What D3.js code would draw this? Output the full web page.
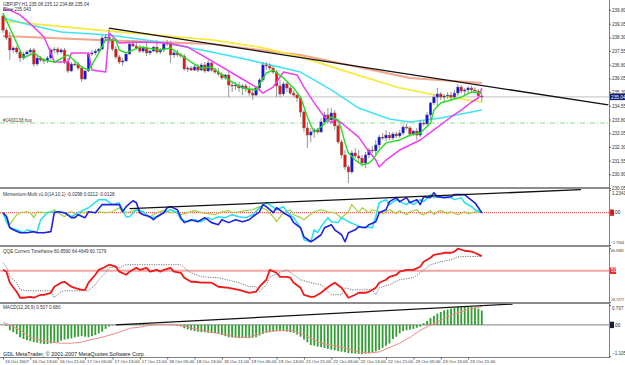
<!DOCTYPE html>
<html>
<head>
<meta charset="utf-8">
<script src="https://cdn.jsdelivr.net/npm/d3@7"></script>
<style>
body { margin: 0; background: #fff; }
svg { display: block; font-family: "Liberation Sans", Arial, sans-serif; }
</style>
</head>
<body>
<svg id="chart" width="625" height="365"></svg>
<script>
// GBPJPY H1 candles, [open, high, low, close]
var candles = [
  [239.47,239.64,238.54,238.70],[238.70,238.81,238.16,238.27],[238.27,238.60,237.06,237.61],[237.61,237.83,237.45,237.72],
  [237.72,237.83,237.39,237.50],[237.50,237.61,236.95,237.17],[237.17,237.50,237.06,237.39],[237.39,237.61,237.23,237.50],
  [237.50,237.72,237.34,237.61],[237.61,237.72,236.68,236.84],[236.84,237.28,236.73,237.17],[237.17,237.28,236.95,237.06],
  [237.06,237.17,236.84,237.01],[237.01,237.28,236.90,237.17],[237.17,237.72,237.06,237.61],[237.61,237.77,237.45,237.66],
  [237.66,237.77,237.34,237.50],[237.50,237.72,237.39,237.61],[237.61,237.72,236.84,236.95],[236.95,237.17,236.35,236.46],
  [236.46,236.95,236.40,236.84],[236.84,236.95,236.73,236.80],[236.80,236.95,236.51,236.62],[236.62,236.73,235.86,236.02],
  [236.02,236.51,235.97,236.46],[236.46,237.50,236.40,237.39],[237.39,237.61,237.28,237.45],[237.45,237.66,237.34,237.55],
  [237.55,237.72,237.45,237.66],[237.66,238.43,237.61,238.27],[238.27,238.49,238.10,238.32],[238.32,238.81,237.99,238.16],
  [238.16,238.27,237.55,237.66],[237.66,237.83,237.12,237.23],[237.23,237.34,236.84,236.95],[236.95,237.17,236.73,237.01],
  [237.01,237.50,236.95,237.39],[237.39,238.05,237.34,237.94],[237.94,238.16,237.77,237.83],[237.83,238.05,237.61,237.72],
  [237.72,237.88,237.45,237.55],[237.55,237.83,237.45,237.72],[237.72,237.99,237.28,237.45],[237.45,237.61,237.34,237.55],
  [237.55,237.83,237.50,237.77],[237.77,238.16,237.39,237.50],[237.50,237.72,237.39,237.61],[237.61,238.05,237.50,237.94],
  [237.94,238.16,237.83,237.99],[237.99,238.10,236.90,237.34],[237.34,237.61,237.17,237.45],[237.45,237.61,237.23,237.34],
  [237.34,237.45,237.17,237.28],[237.28,237.39,236.46,236.57],[236.57,236.73,236.40,236.62],[236.62,236.73,236.46,236.51],
  [236.51,236.79,236.46,236.68],[236.68,236.84,236.40,236.51],[236.51,236.90,236.46,236.79],[236.79,236.95,236.35,236.46],
  [236.46,237.06,236.40,236.90],[236.90,236.95,236.40,236.51],[236.51,236.62,236.29,236.40],[236.40,236.62,236.19,236.29],
  [236.29,236.40,235.97,236.08],[236.08,236.29,235.97,236.24],[236.24,236.40,235.03,235.69],[235.69,235.86,235.31,235.64],
  [235.64,235.86,235.42,235.69],[235.69,235.86,235.31,235.53],[235.53,235.75,235.14,235.64],[235.64,235.75,235.31,235.47],
  [235.47,235.64,235.09,235.25],[235.25,235.53,234.87,235.14],[235.14,235.64,235.09,235.53],[235.53,236.08,235.42,235.97],
  [235.97,236.95,235.86,236.79],[236.79,236.95,236.51,236.73],[236.73,236.90,236.51,236.62],[236.62,236.73,236.29,236.40],
  [236.40,236.51,235.03,235.64],[235.64,235.97,235.03,235.20],[235.20,235.86,235.09,235.75],[235.75,235.86,235.31,235.53],
  [235.53,235.64,235.14,235.25],[235.25,235.42,235.03,235.14],[235.14,235.25,234.76,234.98],[234.98,235.09,233.94,234.21],
  [234.21,234.32,233.12,233.34],[233.34,233.67,232.24,232.95],[232.95,233.34,232.57,233.12],[233.12,233.34,232.79,233.23],
  [233.23,233.34,233.01,233.12],[233.12,233.88,233.06,233.67],[233.67,234.21,233.56,234.05],[234.05,234.43,233.56,233.78],
  [233.78,234.43,233.67,234.16],[234.16,234.32,233.23,233.45],[233.45,233.56,232.46,232.57],[232.57,232.68,231.69,231.86],
  [231.86,232.13,231.04,231.20],[231.20,231.31,230.32,230.93],[230.93,232.13,230.82,231.97],[231.97,232.24,231.69,231.80],
  [231.80,232.13,231.47,231.69],[231.69,231.86,231.25,231.42],[231.42,232.02,231.15,231.86],[231.86,232.24,231.69,232.13],
  [232.13,232.35,231.97,232.08],[232.08,232.68,231.86,232.41],[232.41,232.95,232.24,232.84],[232.84,233.06,232.68,232.79],
  [232.79,233.23,232.62,232.95],[232.95,233.12,232.68,232.79],[232.79,233.12,232.68,233.01],[233.01,233.12,232.79,232.90],
  [232.90,233.23,232.79,233.06],[233.06,233.50,232.95,233.39],[233.39,233.56,233.23,233.34],[233.34,233.45,232.84,233.01],
  [233.01,233.23,232.90,233.17],[233.17,233.34,232.68,232.95],[232.95,233.78,232.84,233.61],[233.61,233.72,233.45,233.56],
  [233.56,234.21,233.50,234.05],[234.05,234.76,233.78,234.71],[234.71,235.14,234.60,235.03],[235.03,235.53,234.54,235.20],
  [235.20,235.31,234.87,235.03],[235.03,235.20,234.71,235.09],[235.09,235.31,234.93,235.14],[235.14,235.31,234.82,235.03],
  [235.03,235.42,234.93,235.25],[235.25,235.75,235.09,235.58],[235.58,235.69,235.25,235.36],[235.36,235.53,235.14,235.42],
  [235.42,235.64,235.25,235.53],[235.53,235.64,235.31,235.42],[235.42,235.58,235.25,235.36],[235.36,235.47,234.98,235.09],
  [235.09,235.25,234.76,235.04]
];

// moving averages, [bar, price]
var yellowMa = [[0,239.20],[28,238.70],[61,238.16],[75,237.77],[87,237.23],[101,236.40],[116,235.53],[128,235.09],[140,234.76]];
var salmonMa = [[0,238.38],[28,238.16],[61,237.94],[87,237.34],[101,236.79],[119,236.08],[140,235.80]];
var cyanMa = [[0,239.36],[8,238.98],[17,238.60],[31,238.43],[46,238.05],[61,237.50],[72,237.06],[87,236.40],[96,235.42],
  [104,234.43],[113,233.83],[119,233.67],[128,233.88],[140,234.32]];
var magentaMa = [[0,239.80],[2,239.80],[5,239.53],[9,238.87],[12,238.32],[14,237.45],[15,236.95],[19,236.95],[20,237.45],
  [25,237.45],[26,236.51],[30,236.40],[31,238.54],[34,237.99],[40,238.05],[48,237.99],[54,237.77],[58,237.34],[63,236.79],
  [69,236.13],[74,235.58],[76,235.25],[79,235.58],[82,236.40],[86,236.24],[88,235.58],[91,234.71],[94,233.94],[96,233.61],
  [97,233.83],[99,233.61],[104,232.84],[106,232.30],[109,231.58],[110,231.20],[112,231.58],[116,232.13],[122,232.68],
  [126,233.23],[131,233.94],[134,234.32],[137,234.76],[139,234.98],[140,235.53]];
var greenMa = [[0,239.64],[4,237.99],[6,237.17],[9,237.45],[12,237.06],[15,236.95],[19,237.34],[23,236.68],[25,236.51],
  [26,236.79],[28,237.45],[30,238.16],[33,238.16],[34,237.61],[36,237.45],[40,237.77],[46,237.61],[49,237.72],[52,237.34],
  [55,236.95],[58,236.62],[61,236.68],[63,236.40],[66,235.97],[70,235.53],[74,235.42],[77,236.35],[79,236.51],[82,236.08],
  [85,235.53],[87,235.03],[89,233.94],[90,233.50],[91,233.12],[93,233.39],[95,233.78],[96,233.94],[98,233.78],[99,233.23],
  [100,232.52],[101,231.97],[103,231.58],[105,231.31],[107,231.42],[108,231.58],[110,232.13],[112,232.52],[116,232.68],
  [119,232.95],[122,233.06],[125,233.61],[126,234.32],[128,234.71],[131,234.87],[134,235.03],[137,235.31],[140,235.25]];
var trendMain = [[31,238.81],[177,234.60]];
var bidPrice = 235.04;
var orderPrice = 233.61;
var priceTicks = [239.80,239.05,238.30,237.55,236.80,236.05,235.30,234.55,233.80,233.05,232.30,231.55,230.80,230.05];

// Momentum-Multi lines, [bar, value]
var momBlue = [[0,0],[1,-0.22],[2,-0.82],[3,-0.93],[5,-1.09],[7,-1.09],[9,-1.03],[10,-1.09],[12,-1.09],[14,-1.03],[15,0],
  [16,0.05],[18,0],[20,-0.27],[21,-0.27],[22,-0.11],[24,-0.27],[25,0.05],[27,0],[29,0.44],[32,0.44],[34,0.44],[35,0.05],
  [36,0.33],[38,0.65],[39,0.54],[40,0],[41,-0.11],[43,-0.22],[44,-0.38],[45,-0.22],[47,0],[48,0.27],[49,0.33],[51,0.16],
  [52,-0.27],[53,-0.54],[55,-0.38],[57,-0.49],[59,-0.27],[61,-0.54],[63,-0.65],[64,-0.38],[66,-0.54],[68,-0.38],[70,-0.49],
  [72,-0.38],[73,-0.22],[75,0.05],[76,0.44],[77,0.33],[79,0],[80,0.27],[82,0],[84,-0.22],[85,-0.54],[87,-0.82],[88,-1.31],
  [90,-1.58],[91,-1.47],[93,-1.20],[94,-0.82],[96,-0.65],[97,-0.93],[99,-1.20],[100,-1.58],[101,-1.09],[103,-0.93],
  [104,-0.76],[106,-0.82],[107,-0.65],[109,-0.49],[110,0],[112,0.16],[113,0.60],[115,0.82],[116,0.60],[118,0.82],[119,0.54],
  [121,0.71],[122,0.44],[123,0.87],[125,0.82],[126,1.09],[127,0.87],[129,0.82],[131,0.87],[132,0.98],[134,0.98],[135,0.98],
  [136,0.82],[138,0.54],[140,0]];
var momCyan = [[0,0],[1,-0.49],[2,-0.82],[4,-0.93],[6,-1.09],[7,-0.93],[9,-1.03],[10,-1.03],[11,-0.38],[13,0],[15,0.05],
  [18,0],[20,-0.22],[22,0],[25,0.27],[28,0.71],[30,0.71],[32,0.44],[34,0.54],[36,-0.22],[37,-0.22],[39,0.16],[41,0.05],
  [43,-0.27],[45,-0.22],[47,0],[49,0.16],[51,0],[52,-0.38],[54,-0.49],[56,-0.38],[58,-0.49],[60,-0.27],[61,-0.38],[63,-0.22],
  [65,-0.27],[67,-0.11],[69,-0.22],[71,-0.27],[73,-0.11],[75,0.27],[77,0.54],[78,0.44],[80,0.16],[82,0.33],[83,0.05],
  [85,-0.27],[87,-0.82],[88,-1.47],[90,-1.58],[91,-0.93],[92,-1.09],[93,-0.76],[95,-0.27],[96,-0.49],[98,-0.54],[99,-0.27],
  [101,-0.49],[103,-0.65],[105,-0.82],[106,-0.76],[108,-0.82],[109,-0.22],[110,0.54],[112,0.71],[113,0.44],[115,0.71],
  [116,0.60],[118,0.44],[119,0.60],[120,0.44],[122,0.71],[123,0.60],[125,0.98],[126,0.82],[128,0.87],[129,0.82],[131,0.82],
  [132,0.71],[134,0.82],[135,0.54],[137,0.33],[138,0.16],[140,0]];
var momLime = [[0,0],[1,-0.11],[2,-0.65],[3,-0.38],[4,-0.11],[5,0],[7,0.05],[8,0],[9,-0.27],[10,0.05],[12,0],[14,0.05],
  [15,0.16],[16,0],[18,-0.22],[19,0],[20,0.05],[22,-0.11],[23,0],[25,0.05],[27,0],[28,0.05],[30,0],[32,0.05],[34,0.27],
  [35,0],[37,0.05],[39,0.16],[41,0],[43,-0.22],[45,0],[47,0.11],[49,0],[51,0.05],[52,-0.11],[54,0],[56,0.11],[58,0],
  [60,-0.05],[62,-0.11],[64,0.05],[66,0.11],[67,0],[69,0.05],[71,0.11],[73,0.16],[75,0.33],[77,0.16],[79,-0.22],[80,-0.49],
  [82,0],[84,0.16],[85,-0.11],[87,-0.27],[88,-0.38],[89,-0.22],[91,0.05],[93,0.16],[95,0.05],[97,0],[99,-0.27],[101,0.05],
  [102,0.44],[104,0],[105,0.27],[107,0],[108,0.16],[110,0.05],[111,-0.05],[113,0.16],[115,-0.05],[116,0.11],[118,-0.11],
  [119,0.05],[121,0.16],[122,-0.05],[123,-0.11],[125,0.11],[126,-0.11],[127,0.05],[128,0.11],[130,-0.05],[131,0.05],
  [133,-0.11],[135,0.05],[136,-0.05],[138,0.05],[140,0]];
var trendMom = [[37,0.22],[169,1.25]];

// QQE, [bar, value]
var qqeRsi = [[0,50.7],[1,49.3],[2,41.1],[4,34.4],[5,29.9],[6,29.9],[8,30.6],[9,29.9],[11,32.1],[12,32.1],[14,33.6],
  [15,38.1],[17,41.1],[18,41.8],[20,38.1],[21,37.3],[23,35.8],[24,35.8],[25,41.1],[27,47.0],[28,50.7],[30,53.0],[31,54.5],
  [33,53.0],[34,49.3],[36,47.0],[37,49.3],[39,52.2],[40,50.7],[42,52.2],[43,49.3],[45,50.7],[46,49.3],[47,50.7],[49,52.2],
  [50,49.3],[52,48.5],[53,44.8],[55,41.8],[56,41.8],[58,41.1],[61,41.1],[63,38.1],[66,37.3],[69,35.8],[72,33.6],[74,34.4],
  [75,38.1],[77,43.3],[78,50.7],[80,48.5],[81,45.5],[83,45.5],[84,44.8],[85,41.1],[87,37.3],[88,32.1],[90,30.6],[91,30.6],
  [93,33.6],[94,35.8],[96,39.6],[97,41.1],[99,37.3],[100,33.6],[101,29.9],[103,32.1],[104,33.6],[106,33.6],[107,34.4],
  [109,37.3],[110,41.1],[112,43.3],[113,45.5],[115,47.0],[116,49.3],[118,50.7],[119,50.7],[120,50.7],[122,53.0],[123,56.7],
  [125,59.7],[126,61.9],[128,62.7],[129,63.4],[131,63.4],[132,64.2],[133,66.4],[135,64.9],[137,64.2],[138,63.4],[140,60.86]];
var qqeTrail = [[0,56.0],[1,53.0],[2,45.5],[4,41.1],[5,35.8],[7,35.1],[14,35.1],[15,29.9],[16,32.1],[17,34.4],[18,35.1],
  [25,35.1],[27,39.6],[28,43.3],[30,48.5],[31,52.2],[33,53.0],[34,52.2],[36,54.5],[52,54.5],[53,52.2],[55,48.5],[58,45.5],
  [63,44.8],[69,41.1],[72,38.1],[74,38.1],[75,34.4],[77,39.6],[78,45.5],[83,50.7],[87,43.3],[90,41.1],[93,39.6],[94,37.3],
  [96,32.1],[99,32.1],[100,37.3],[102,35.8],[108,35.8],[109,32.1],[110,37.3],[113,39.6],[116,43.3],[120,44.8],[122,48.5],
  [125,54.5],[128,56.7],[131,58.2],[133,60.4],[140,60.73]];

// MACD(12,26,9): histogram per bar, signal [bar, value]
var macdHist = [0.00,-0.03,-0.19,-0.26,-0.33,-0.44,-0.50,-0.54,-0.58,-0.61,-0.63,-0.66,-0.68,-0.68,-0.66,-0.63,-0.61,
  -0.56,-0.52,-0.50,-0.48,-0.44,-0.42,-0.40,-0.42,-0.44,-0.40,-0.36,-0.30,-0.24,-0.14,-0.06,-0.02,
  0.02,0.03,0.04,0.04,0.03,0.02,0.03,0.04,0.03,0.02,0.01,0.02,0.03,0.02,0.01,0.00,-0.01,-0.01,-0.03,
  -0.05,-0.12,-0.16,-0.19,-0.22,-0.24,-0.26,-0.26,-0.28,-0.29,-0.30,-0.31,-0.36,-0.40,-0.44,-0.45,-0.46,-0.47,-0.47,
  -0.47,-0.47,-0.46,-0.44,-0.38,-0.32,-0.28,-0.26,-0.24,-0.22,-0.22,-0.22,
  -0.24,-0.26,-0.28,-0.34,-0.42,-0.52,-0.62,-0.72,-0.74,-0.77,-0.79,-0.82,-0.85,-0.88,-0.90,-0.93,-0.95,-0.97,-1.00,
  -1.01,-1.02,-1.03,-1.04,-1.02,-1.00,-0.97,-0.94,-0.89,-0.82,-0.74,-0.66,
  -0.50,-0.42,-0.30,-0.22,-0.19,-0.17,-0.14,-0.10,-0.06,0.06,0.14,0.24,0.32,0.40,0.46,0.52,0.55,0.58,0.61,0.64,0.65,
  0.65,0.65,0.64,0.62,0.58,0.51];
var macdSignal = [[0,0.09],[2,-0.01],[5,-0.19],[8,-0.44],[11,-0.54],[14,-0.61],[17,-0.65],[20,-0.65],[23,-0.61],[25,-0.54],
  [28,-0.47],[31,-0.37],[34,-0.26],[37,-0.12],[40,-0.08],[43,-0.01],[46,0.02],[50,0.02],[54,-0.08],[58,-0.19],[61,-0.26],
  [63,-0.30],[69,-0.44],[72,-0.44],[77,-0.23],[84,-0.19],[87,-0.30],[93,-0.65],[99,-0.79],[104,-0.96],[107,-1.00],
  [110,-0.96],[116,-0.65],[119,-0.44],[122,-0.19],[125,-0.01],[131,0.34],[136,0.55],[140,0.65]];
var trendMacd = [[33,0.0],[149,0.74]];

var timeBars = [0,8,16,24,32,40,48,56,64,72,80,88,96,104,112,120,128,136];
var timeLabels = ["16 Oct 2007","16 Oct 13:00","16 Oct 21:00","17 Oct 05:00","17 Oct 13:00","17 Oct 21:00",
  "18 Oct 05:00","18 Oct 13:00","18 Oct 21:00","19 Oct 05:00","19 Oct 13:00","21 Oct 21:00","22 Oct 05:00",
  "22 Oct 13:00","22 Oct 21:00","23 Oct 05:00","23 Oct 13:00","23 Oct 21:00"];

var svg = d3.select('#chart');
var right = 609;
var x = d3.scaleLinear().domain([0, 140]).range([3, 481.8]);
var yMain = d3.scaleLinear().domain([230.05, 239.80]).range([188, 10]);
var yMom = d3.scaleLinear().domain([-1.7564, 1.2341]).range([245, 190]);
var yQqe = d3.scaleLinear().domain([26.7277, 66.9481]).range([302, 248]);
var yMacd = d3.scaleLinear().domain([-1.105, 0.707]).range([356, 305]);

svg.append('rect').attr('width', 625).attr('height', 365).attr('fill', '#fff');

var defs = svg.append('defs');
function panel(id, y0, h) {
  defs.append('clipPath').attr('id', id).append('rect')
    .attr('x', 0).attr('y', y0).attr('width', right).attr('height', h);
  return svg.append('g').attr('clip-path', 'url(#' + id + ')');
}
var gMain = panel('cMain', 0, 187);
var gMom = panel('cMom', 189, 56);
var gQqe = panel('cQqe', 247, 55);
var gMacd = panel('cMacd', 304, 53);

function drawLine(g, data, y, color, width, dash) {
  g.append('path').datum(data)
    .attr('fill', 'none')
    .attr('stroke', color)
    .attr('stroke-width', width)
    .attr('stroke-dasharray', dash || null)
    .attr('stroke-linejoin', 'round')
    .attr('d', d3.line()
      .x(function(d) { return x(d[0]); })
      .y(function(d) { return y(d[1]); }));
}
function hLine(g, y, color, width, dash) {
  g.append('line').attr('x1', 0).attr('x2', right).attr('y1', y).attr('y2', y)
    .attr('stroke', color).attr('stroke-width', width).attr('stroke-dasharray', dash || null);
}

// main panel
hLine(gMain, yMain(bidPrice), '#c0c0c0', 1);
hLine(gMain, yMain(orderPrice), '#8fd88f', 1, '5,2,1,2');
gMain.append('text').attr('x', 3).attr('y', yMain(orderPrice) - 1.5)
  .style('font-size', '4.6px').attr('fill', '#444').text('#1400138 buy');

drawLine(gMain, salmonMa, yMain, '#f3a58a', 2);
drawLine(gMain, yellowMa, yMain, '#f8ea3c', 1.7);
drawLine(gMain, cyanMa, yMain, '#3fe3f3', 1.5);

var gc = gMain.selectAll('g.candle').data(candles).enter().append('g');
gc.append('line')
  .attr('x1', function(d, i) { return x(i); })
  .attr('x2', function(d, i) { return x(i); })
  .attr('y1', function(d) { return yMain(d[1]); })
  .attr('y2', function(d) { return yMain(d[2]); })
  .attr('stroke', '#8a8a8a').attr('stroke-width', 0.9);
gc.append('rect')
  .attr('x', function(d, i) { return x(i) - 1.3; })
  .attr('width', 2.6)
  .attr('y', function(d) { return yMain(Math.max(d[0], d[3])); })
  .attr('height', function(d) { return Math.max(1, Math.abs(yMain(d[0]) - yMain(d[3]))); })
  .attr('fill', function(d) { return d[3] >= d[0] ? '#1010f0' : '#f01010'; })
  .attr('stroke', '#707070').attr('stroke-width', 0.4);

drawLine(gMain, magentaMa, yMain, '#f03cf0', 1.5);
drawLine(gMain, greenMa, yMain, '#22dd22', 1.4);
drawLine(gMain, trendMain, yMain, '#111', 1.3);

svg.append('text').attr('x', 3).attr('y', 5.5).style('font-size', '4.6px').attr('fill', '#333')
  .text('GBPJPY,H1 235.08 235.12 234.88 235.04');
svg.append('text').attr('x', 3).attr('y', 10.5).style('font-size', '4.6px').attr('fill', '#333')
  .text('Bline 235.043');

// momentum panel
hLine(gMom, yMom(0), '#ff3030', 1, '1,1');
drawLine(gMom, momLime, yMom, '#a3cf3c', 1.2);
drawLine(gMom, momCyan, yMom, '#22e0f0', 1.5);
drawLine(gMom, momBlue, yMom, '#2020e0', 1.6);
drawLine(gMom, trendMom, yMom, '#111', 1.3);
svg.append('text').attr('x', 3).attr('y', 196).style('font-size', '4.6px').attr('fill', '#333')
  .text('Momentum-Multi v1.0(14,10,1) -0.0298 0.0212 -0.0128');

// QQE panel
hLine(gQqe, yQqe(50), '#f4a4a4', 1.8);
drawLine(gQqe, qqeTrail, yQqe, '#777', 1, '1.2,1.2');
drawLine(gQqe, qqeRsi, yQqe, '#f01818', 1.8);
svg.append('text').attr('x', 3).attr('y', 252.5).style('font-size', '4.6px').attr('fill', '#333')
  .text('QQE Current Timeframe 60.8590 64.4649 60.7279');

// MACD panel
hLine(gMacd, yMacd(0), '#808080', 1);
gMacd.selectAll('rect.h').data(macdHist).enter().append('rect')
  .attr('x', function(d, i) { return x(i) - 0.9; })
  .attr('width', 1.8)
  .attr('y', function(d) { return yMacd(Math.max(0, d)); })
  .attr('height', function(d) { return Math.abs(yMacd(d) - yMacd(0)); })
  .attr('fill', '#2f9f2f');
drawLine(gMacd, macdSignal, yMacd, '#f08a8a', 1);
drawLine(gMacd, trendMacd, yMacd, '#111', 1.3);
svg.append('text').attr('x', 3).attr('y', 308.5).style('font-size', '4.6px').attr('fill', '#333')
  .text('MACD(12,26,9) 0.507 0.680');
svg.append('text').attr('x', 3).attr('y', 356).style('font-size', '5.4px').attr('fill', '#222')
  .text('GDL MetaTrader, \u00a9 2001-2007 MetaQuotes Software Corp.');

// separators and frame
[187, 245, 302].forEach(function(y) {
  svg.append('rect').attr('x', 0).attr('y', y).attr('width', right).attr('height', 2).attr('fill', '#8c8c8c');
});
svg.append('line').attr('x1', right + 0.5).attr('x2', right + 0.5).attr('y1', 0).attr('y2', 358)
  .attr('stroke', '#808080');
svg.append('line').attr('x1', 0).attr('x2', right).attr('y1', 357.5).attr('y2', 357.5)
  .attr('stroke', '#808080');

// right axes
function rightAxis(y, vals, fmt, shiftEnds) {
  var g = svg.append('g').attr('transform', 'translate(' + right + ',0)')
    .call(d3.axisRight(y).tickValues(vals).tickSize(2).tickFormat(fmt));
  g.select('.domain').remove();
  g.selectAll('line').attr('stroke', '#666');
  g.selectAll('text').attr('x', 3).style('font-size', '4.6px').attr('fill', '#333')
    .each(function() {
      // long labels get a smaller size to fit the narrow axis strip
      if (this.textContent.length > 6) {
        d3.select(this).attr('x', 2).style('font-size', '3.6px');
      }
    });
  if (shiftEnds) {
    g.selectAll('text').attr('dy', function(d, i) { return i === 0 ? '1em' : '-0.3em'; });
  }
  return g;
}
rightAxis(yMain, priceTicks, d3.format('.2f'));
rightAxis(yMom, [1.2341, -1.7564], d3.format('.4f'), true);
rightAxis(yQqe, [66.9481, 26.7277], d3.format('.4f'), true);
rightAxis(yMacd, [0.707, -1.105], d3.format('.3f'), true);

function valueBox(y, label, bg, fg, w) {
  svg.append('rect').attr('x', right + 1).attr('y', y - 3.2).attr('width', w).attr('height', 6.4).attr('fill', bg);
  svg.append('text').attr('x', right + 2).attr('y', y + 1.7).style('font-size', '4.8px').attr('fill', fg).text(label);
}
valueBox(yMain(bidPrice), '235.04', '#0c1a70', '#fff', 15);
valueBox(yMom(0), '0.00', '#f02828', '#222', 4);
valueBox(yQqe(50), '50', '#f02828', '#fff', 6);
valueBox(yMacd(0), '0.00', '#1a1a3a', '#222', 4);

// time axis
var gt = svg.append('g').attr('transform', 'translate(0,357.5)')
  .call(d3.axisBottom(x).tickValues(timeBars).tickSize(2)
    .tickFormat(function(d, i) { return timeLabels[i]; }));
gt.select('.domain').remove();
gt.selectAll('line').attr('stroke', '#666');
gt.selectAll('text').attr('text-anchor', 'start').attr('x', 1.5).attr('y', 2.5)
  .style('font-size', '4.4px').attr('fill', '#333');
</script>
</body>
</html>
